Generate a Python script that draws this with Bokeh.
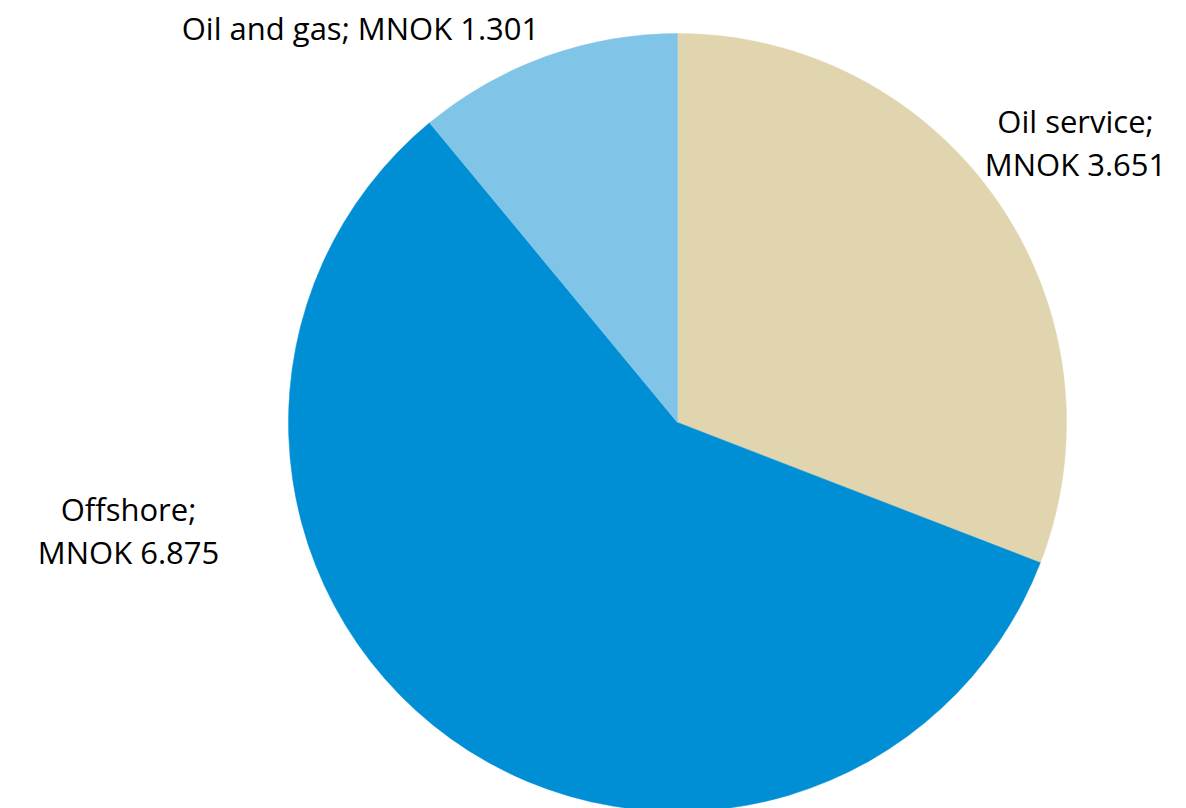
import numpy as np
from bokeh.plotting import figure
from bokeh.models import ColumnDataSource
from bokeh.core.properties import value
from bokeh.embed import file_html
from bokeh.resources import INLINE

categories = ["Oil service", "Offshore", "Oil and gas"]
values = [3.651, 6.875, 1.301]
value_labels = ["MNOK 3.651", "MNOK 6.875", "MNOK 1.301"]
colors = ["#E0D5AF", "#008FD5", "#80C4E8"]

W, H = 1186, 808
cx, cy, r = 677, 808 - 422, 389

vals = np.array(values)
frac = vals / vals.sum()
cum = np.concatenate([[0], np.cumsum(frac)])
start = np.pi / 2 - 2 * np.pi * cum[:-1]
end = np.pi / 2 - 2 * np.pi * cum[1:]

src = ColumnDataSource(dict(start=start, end=end, color=colors, cat=categories))

p = figure(width=W, height=H, x_range=(0, W), y_range=(0, H),
           output_backend="svg", toolbar_location=None, min_border=0)
p.axis.visible = False
p.grid.visible = False
p.outline_line_color = None
p.background_fill_color = "white"

p.wedge(x=cx, y=cy, radius=r, start_angle="start", end_angle="end",
        direction="clock", fill_color="color", line_color="color", line_width=0.5,
        source=src)

font = value("Open Sans")
fs = "31px"
lab = ColumnDataSource(dict(
    x=[360, 1075, 1075, 128, 128],
    y=[H - 27, H - 120, H - 163, H - 508, H - 551],
    t=[f"{categories[2]}; {value_labels[2]}", f"{categories[0]};", value_labels[0],
       f"{categories[1]};", value_labels[1]],
))
p.text(x="x", y="y", text="t", source=lab, text_font=font, text_font_size=fs,
       text_align="center", text_baseline="middle", text_color="#000000")

open("out.html", "w").write(file_html(p, INLINE))
